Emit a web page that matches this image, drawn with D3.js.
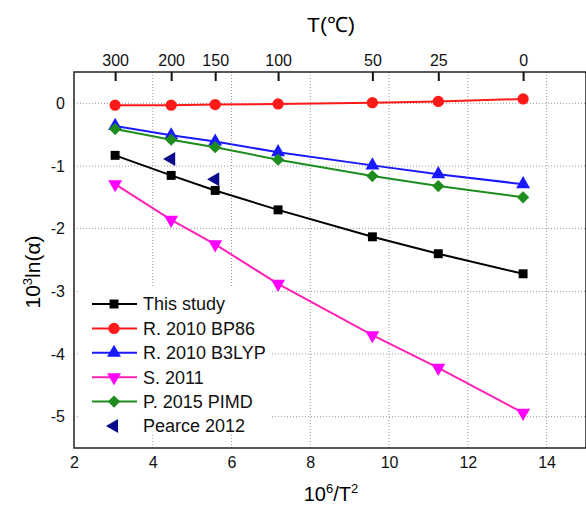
<!DOCTYPE html>
<html>
<head>
<meta charset="utf-8">
<script src="https://cdn.jsdelivr.net/npm/d3@7"></script>
<style>
  body { margin: 0; background: #fff; }
  text { font-family: "Liberation Sans", Arial, sans-serif; }
</style>
</head>
<body>
<script>
// temperatures (deg C) where every series was computed
var tempsC = [300, 200, 150, 100, 50, 25, 0];
var xVals = tempsC.map(function(t) { return 1e6 / Math.pow(t + 273.15, 2); });

// 10^3 ln(alpha)
var thisStudy = [-0.83, -1.15, -1.39, -1.70, -2.13, -2.40, -2.72];
var bp86      = [-0.03, -0.03, -0.02, -0.01, 0.01, 0.03, 0.07];
var b3lyp     = [-0.36, -0.51, -0.61, -0.78, -0.99, -1.13, -1.29];
var s2011     = [-1.29, -1.86, -2.25, -2.88, -3.70, -4.22, -4.94];
var pimd      = [-0.41, -0.58, -0.70, -0.90, -1.16, -1.32, -1.50];
var pearceT   = [200, 150];
var pearce    = [-0.89, -1.21];

var xTicks = [2, 4, 6, 8, 10, 12, 14];
var yTicks = [0, -1, -2, -3, -4, -5];

var width = 586, height = 510;
var margin = { top: 72, right: 0, bottom: 62, left: 74 };

var svg = d3.select("body").append("svg")
    .attr("width", width)
    .attr("height", height);

var x = d3.scaleLinear().domain([2, 15]).range([margin.left, width - margin.right]);
var y = d3.scaleLinear().domain([-5.5, 0.5]).range([height - margin.bottom, margin.top]);

var toX = function(t) { return 1e6 / Math.pow(t + 273.15, 2); };

// grid
var grid = svg.append("g")
    .attr("stroke", "#999")
    .attr("stroke-width", 1)
    .attr("stroke-dasharray", "1,2");
grid.selectAll(".gx").data(xTicks.slice(1))
  .enter().append("line")
    .attr("x1", function(d) { return x(d); })
    .attr("x2", function(d) { return x(d); })
    .attr("y1", y.range()[1])
    .attr("y2", y.range()[0]);
grid.selectAll(".gy").data(yTicks)
  .enter().append("line")
    .attr("x1", x.range()[0])
    .attr("x2", x.range()[1])
    .attr("y1", function(d) { return y(d); })
    .attr("y2", function(d) { return y(d); });

// legend background hides grid behind it
svg.append("rect")
    .attr("x", 80).attr("y", 288)
    .attr("width", 190).attr("height", 146)
    .attr("fill", "#fff");

var series = [
  { name: "This study",   vals: thisStudy, color: "#000000", mcolor: "#000000", shape: "square" },
  { name: "R. 2010 BP86", vals: bp86,      color: "#ff1a1a", mcolor: "#ff1a1a", shape: "circle" },
  { name: "R. 2010 B3LYP",vals: b3lyp,     color: "#1a1aff", mcolor: "#1a1aff", shape: "up" },
  { name: "S. 2011",      vals: s2011,     color: "#ff22b4", mcolor: "#ff00ff", shape: "down" },
  { name: "P. 2015 PIMD", vals: pimd,      color: "#1e8c1e", mcolor: "#1e8c1e", shape: "diamond" },
  { name: "Pearce 2012",  vals: pearce,    color: null,      mcolor: "#0a0a8c", shape: "left" }
];

function symbolPath(shape) {
  if (shape === "square") return d3.symbol(d3.symbolSquare, 80)();
  if (shape === "circle") return d3.symbol(d3.symbolCircle, 100)();
  if (shape === "diamond") return d3.symbol(d3.symbolSquare, 75)();
  return d3.symbol(d3.symbolTriangle, 85)();
}
function symbolRot(shape) {
  if (shape === "down") return 180;
  if (shape === "left") return -90;
  if (shape === "diamond") return 45;
  return 0;
}

var line = d3.line()
    .x(function(d) { return x(d[0]); })
    .y(function(d) { return y(d[1]); });

series.forEach(function(s) {
  var xs = s.shape === "left" ? pearceT.map(toX) : xVals;
  var pts = s.vals.map(function(v, i) { return [xs[i], v]; });
  if (s.color) {
    svg.append("path")
        .datum(pts)
        .attr("fill", "none")
        .attr("stroke", s.color)
        .attr("stroke-width", 2)
        .attr("d", line);
  }
  svg.append("g").selectAll("path")
      .data(pts)
      .enter().append("path")
      .attr("d", symbolPath(s.shape))
      .attr("fill", s.mcolor)
      .attr("transform", function(d) {
        return "translate(" + x(d[0]) + "," + y(d[1]) + ") rotate(" + symbolRot(s.shape) + ")";
      });
});

// frame
svg.append("rect")
    .attr("x", x.range()[0]).attr("y", y.range()[1])
    .attr("width", x.range()[1] - x.range()[0])
    .attr("height", y.range()[0] - y.range()[1])
    .attr("fill", "none")
    .attr("stroke", "#222")
    .attr("stroke-width", 1.5);

// axes
var fs = "16px";
var axBottom = svg.append("g")
    .attr("transform", "translate(0," + y.range()[0] + ")")
    .call(d3.axisBottom(x).tickValues(xTicks).tickSize(0).tickPadding(9));
var axLeft = svg.append("g")
    .attr("transform", "translate(" + x.range()[0] + ",0)")
    .call(d3.axisLeft(y).tickValues(yTicks).tickSize(0).tickPadding(9)
      .tickFormat(function(d) { return d === 0 ? "0" : "-" + Math.abs(d); }));
var axTop = svg.append("g")
    .attr("transform", "translate(0," + y.range()[1] + ")")
    .call(d3.axisTop(x).tickValues(xVals).tickSize(-9).tickPadding(6)
      .tickFormat(function(d, i) { return tempsC[i]; }));

[axBottom, axLeft, axTop].forEach(function(a) {
  a.select(".domain").remove();
  a.selectAll("text").attr("font-size", fs).attr("fill", "#111")
    .style("font-family", "'Liberation Sans', Arial, sans-serif");
});
axTop.selectAll(".tick line").attr("stroke", "#111").attr("stroke-width", 2);

// titles
svg.append("text")
    .attr("x", 331).attr("y", 32)
    .attr("text-anchor", "middle")
    .attr("font-size", "21px")
    .text("T(℃)");

var xl = svg.append("text")
    .attr("x", 331).attr("y", 501)
    .attr("text-anchor", "middle")
    .attr("font-size", "20px");
xl.append("tspan").text("10");
xl.append("tspan").attr("font-size", "13px").attr("dy", -8).text("6");
xl.append("tspan").attr("dy", 8).text("/T");
xl.append("tspan").attr("font-size", "13px").attr("dy", -8).text("2");

var yl = svg.append("text")
    .attr("transform", "translate(40,272) rotate(-90)")
    .attr("text-anchor", "middle")
    .attr("font-size", "21px");
yl.append("tspan").text("10");
yl.append("tspan").attr("font-size", "13px").attr("dy", -8).text("3");
yl.append("tspan").attr("dy", 8).text("ln(α)");

// legend
var leg = svg.append("g");
series.forEach(function(s, i) {
  var ly = 304 + i * 24.4;
  if (s.color) {
    leg.append("line")
        .attr("x1", 92).attr("x2", 137)
        .attr("y1", ly).attr("y2", ly)
        .attr("stroke", s.color).attr("stroke-width", 2);
  }
  leg.append("path")
      .attr("d", symbolPath(s.shape))
      .attr("fill", s.mcolor)
      .attr("transform", "translate(114," + ly + ") rotate(" + symbolRot(s.shape) + ")");
  leg.append("text")
      .attr("x", 143).attr("y", ly)
      .attr("dy", "0.36em")
      .attr("font-size", "18px")
      .attr("fill", "#111")
      .text(s.name);
});
</script>
</body>
</html>
